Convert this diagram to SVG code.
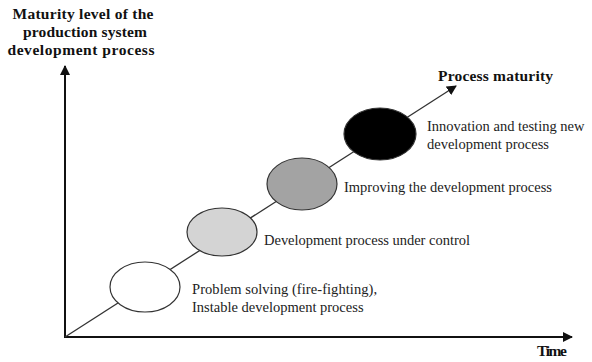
<svg xmlns="http://www.w3.org/2000/svg" width="592" height="362" viewBox="0 0 592 362">
<style>
.b{font-family:"Liberation Serif","Times New Roman",serif;font-weight:bold;font-size:15.5px;fill:#111}
.r{font-family:"Liberation Serif","Times New Roman",serif;font-size:14.5px;fill:#222}
.axis{stroke:#111;stroke-width:2;fill:none}
.diag{stroke:#333;stroke-width:1.3;fill:none}
.ell{stroke:#333;stroke-width:1.2}
</style>
<defs>
<marker id="ah" viewBox="0 0 10 10" refX="9" refY="5" markerWidth="10" markerHeight="10" markerUnits="userSpaceOnUse" orient="auto">
<path d="M0,0 L10,5 L0,10 Z" fill="#111"/>
</marker>
</defs>
<rect width="592" height="362" fill="#fff"/>
<g id="connectors">
<line class="axis" x1="65" y1="337" x2="65" y2="66" marker-end="url(#ah)"/>
<line class="axis" x1="64" y1="337" x2="572" y2="337" marker-end="url(#ah)"/>
<line class="diag" x1="65" y1="337" x2="456" y2="86" marker-end="url(#ah)"/>
</g>
<g id="y-label">
<text class="b" x="83" y="19" text-anchor="middle" textLength="141">Maturity level of the</text>
<text class="b" x="85" y="37" text-anchor="middle" textLength="124">production system</text>
<text class="b" x="81" y="55" text-anchor="middle" textLength="147">development process</text>
</g>
<g id="x-label"><text class="b" x="537" y="356" textLength="30">Time</text></g>
<g id="diag-label"><text class="b" x="438" y="81" textLength="115">Process maturity</text></g>
<g id="level1">
<ellipse class="ell" cx="145" cy="287" rx="35" ry="25" fill="#fff"/>
<text class="r" x="192" y="294" textLength="185">Problem solving (fire-fighting),</text>
<text class="r" x="192" y="312">Instable development process</text>
</g>
<g id="level2">
<ellipse class="ell" cx="222" cy="232" rx="35" ry="24" fill="#d4d4d4"/>
<text class="r" x="264" y="245" textLength="206">Development process under control</text>
</g>
<g id="level3">
<ellipse class="ell" cx="302" cy="184" rx="35" ry="26" fill="#a3a3a3"/>
<text class="r" x="344" y="192" textLength="208">Improving the development process</text>
</g>
<g id="level4">
<ellipse class="ell" cx="380" cy="134" rx="36" ry="26" fill="#000"/>
<text class="r" x="427" y="131">Innovation and testing new</text>
<text class="r" x="427" y="149">development process</text>
</g>
</svg>
